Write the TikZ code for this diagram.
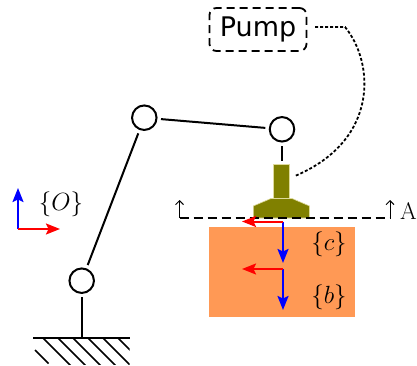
\documentclass[tikz,border=0pt]{standalone}
\usepackage{fontspec}
\usepackage{amsmath}
\usepackage{tikz}
\usetikzlibrary{arrows.meta,positioning,calc}
\setsansfont{DejaVu Sans}
\definecolor{partolive}{HTML}{808000}
\definecolor{partorange}{HTML}{FF9955}
\tikzset{
  joint/.style={draw, circle, line width=2pt, fill=white, minimum size=24.5pt, inner sep=0pt, outer sep=4.5pt},
  link/.style={line width=2pt},
  pumpbox/.style={draw, dash pattern=on 8pt off 5pt, rounded corners=7pt, line width=1.8pt, minimum width=97pt, minimum height=43pt, font=\sffamily\fontsize{27}{27}\selectfont},
  vacuum/.style={dash pattern=on 3pt off 2pt, line width=1.8pt},
  axisx/.style={red, line width=2pt, -{Stealth[length=14pt,width=11pt,inset=2.5pt]}},
  axisz/.style={blue, line width=2pt, -{Stealth[length=14pt,width=11pt,inset=2.5pt]}},
  framelabel/.style={inner sep=0pt, font=\fontsize{26}{26}\selectfont},
  gripper/.style={fill=partolive, draw=olive!30!white, line width=0.6pt},
  cutmark/.style={line width=1pt, -{Straight Barb[length=4pt,width=8pt]}}
}
\begin{document}
\begin{tikzpicture}[x=1pt,y=-1pt]
  \useasboundingbox (0,0) rectangle (417,366);

  % part
  \node[fill=partorange, draw=white, line width=0.6pt, minimum width=147pt, minimum height=91pt, inner sep=0pt] (part) at (282,272) {};

  % arm
  \node[joint] (base) at (81.7,280.7) {};
  \node[joint] (elbow) at (144.3,117.7) {};
  \node[joint] (wrist) at (282,129.3) {};
  \coordinate (ground) at (81.7,338);
  \coordinate (flange) at (282,161);
  \draw[link] (ground) -- (base);
  \draw[link] (base) -- (elbow);
  \draw[link] (elbow) -- (wrist);
  \draw[link] (wrist) -- (flange);

  % ground
  \coordinate (gl) at (33,338);
  \coordinate (gr) at (130,338);
  \draw[link] (gl) -- (gr);
  \draw[line width=1.5pt] (35,350) -- (48.5,363.5);
  \begin{scope}
    \clip (33,338) rectangle (129.5,364);
    \foreach \x in {43,58,73,88,103,118}
      \draw[line width=1.5pt] (\x,338) -- ++(32,32);
  \end{scope}

  % gripper
  \node[gripper, minimum width=16.5pt, minimum height=33pt, inner sep=0pt] (stem) at (281.5,181.3) {};
  \draw[gripper] (253.3,218) -- (253.3,206) -- (271,198.5) -- (292,198.5) -- (309.5,206) -- (309.5,218) -- cycle;

  % pump
  \node[pumpbox] (pump) at (258,29.5) {Pump\hspace{5pt}};
  \coordinate (pumpout) at (315,27);
  \coordinate (pumpin) at (295,176);
  \draw[vacuum] (pumpout) -- (345,27) .. controls (374,62) and (380,140) .. (pumpin);

  % cut line
  \coordinate (cutl) at (179.5,218);
  \coordinate (cutr) at (390,218);
  \coordinate (cutlt) at (179.5,200);
  \coordinate (cutrt) at (390,200);
  \draw[dash pattern=on 9pt off 5pt, line width=1.8pt] (cutl) -- (cutr);
  \draw[cutmark] (cutl) -- (cutlt);
  \draw[cutmark] (cutr) -- (cutrt);
  \node[inner sep=0pt, font=\fontsize{24}{24}\selectfont, anchor=base west] (cutA) at (400,219) {A};

  % frames
  \coordinate (co) at (283,221.5);
  \coordinate (cx) at (242,221.5);
  \coordinate (cz) at (283,263);
  \coordinate (bo) at (283,269);
  \coordinate (bx) at (242,269);
  \coordinate (bz) at (283,310);
  \coordinate (oo) at (18,229);
  \coordinate (ox) at (60,229);
  \coordinate (oz) at (18,188);
  \draw[axisz] (co) -- (cz);
  \draw[axisx] (co) -- (cx);
  \draw[axisz] (bo) -- (bz);
  \draw[axisx] (bo) -- (bx);
  \draw[axisz] (oo) -- (oz);
  \draw[axisx] (oo) -- (ox);
  \node[framelabel] (clabel) at (329,244) {$\{c\}$};
  \node[framelabel] (blabel) at (329,297) {$\{b\}$};
  \node[framelabel] (olabel) at (61,204) {$\{O\}$};
\end{tikzpicture}
\end{document}
